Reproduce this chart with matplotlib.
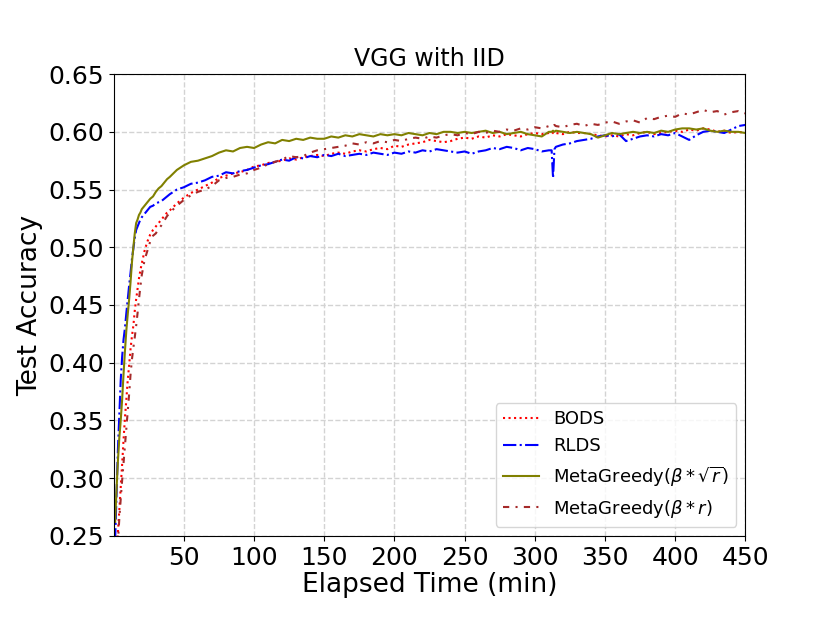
import numpy as np
import matplotlib
matplotlib.use("Agg")
import matplotlib.pyplot as plt

# elapsed time (min)
t = (list(range(1, 21)) + list(range(22, 41, 2)) + list(range(45, 311, 5))
     + [312, 313, 314] + list(range(315, 451, 5)))

bods = [0.215, 0.235, 0.253, 0.272, 0.292, 0.312, 0.333, 0.352, 0.368, 0.385,
        0.398, 0.412, 0.423, 0.432, 0.445, 0.455, 0.464, 0.473, 0.480, 0.486,
        0.497, 0.505, 0.511, 0.515, 0.518, 0.521, 0.524, 0.527, 0.530, 0.532,
        0.538, 0.543, 0.547, 0.550, 0.553, 0.556, 0.560, 0.562, 0.564, 0.565,
        0.567, 0.570, 0.571, 0.573, 0.574, 0.575, 0.577, 0.576, 0.578, 0.579,
        0.580, 0.579, 0.581, 0.582, 0.581, 0.583, 0.584, 0.583, 0.585, 0.586,
        0.585, 0.588, 0.587, 0.589, 0.590, 0.591, 0.593, 0.592, 0.591, 0.592,
        0.594, 0.595, 0.594, 0.596, 0.595, 0.597, 0.596, 0.598, 0.597, 0.596,
        0.598, 0.599, 0.598, 0.599,
        0.600, 0.599, 0.598,
        0.599, 0.598, 0.600, 0.599, 0.599, 0.598, 0.597, 0.596, 0.597, 0.596,
        0.598, 0.597, 0.599, 0.600, 0.598, 0.599, 0.600, 0.601, 0.600, 0.602,
        0.601, 0.603, 0.602, 0.600, 0.601, 0.599, 0.600, 0.599]

rlds = [0.245, 0.285, 0.325, 0.355, 0.385, 0.405, 0.420, 0.430, 0.443, 0.455,
        0.467, 0.478, 0.490, 0.499, 0.508, 0.515, 0.518, 0.521, 0.524, 0.526,
        0.529, 0.532, 0.535, 0.536, 0.538, 0.539, 0.540, 0.542, 0.544, 0.546,
        0.550, 0.552, 0.555, 0.556, 0.558, 0.561, 0.562, 0.565, 0.564, 0.566,
        0.567, 0.569, 0.571, 0.572, 0.574, 0.576, 0.575, 0.578, 0.577, 0.579,
        0.578, 0.580, 0.579, 0.581, 0.579, 0.580, 0.581, 0.580, 0.582, 0.581,
        0.580, 0.582, 0.581, 0.583, 0.582, 0.584, 0.583, 0.585, 0.584, 0.583,
        0.582, 0.583, 0.581, 0.583, 0.584, 0.586, 0.585, 0.587, 0.586, 0.584,
        0.586, 0.585, 0.583, 0.584,
        0.584, 0.560, 0.585,
        0.587, 0.589, 0.590, 0.592, 0.593, 0.594, 0.596, 0.597, 0.596, 0.598,
        0.592, 0.594, 0.596, 0.597, 0.596, 0.598, 0.597, 0.599, 0.596, 0.593,
        0.597, 0.600, 0.601, 0.600, 0.599, 0.602, 0.605, 0.606]

mg_sqrt = [0.262, 0.290, 0.315, 0.335, 0.350, 0.368, 0.390, 0.410, 0.428, 0.442,
           0.455, 0.470, 0.487, 0.500, 0.512, 0.521, 0.524, 0.528, 0.530, 0.533,
           0.536, 0.539, 0.542, 0.544, 0.548, 0.551, 0.553, 0.556, 0.559, 0.561,
           0.567, 0.571, 0.574, 0.575, 0.577, 0.579, 0.582, 0.584, 0.583, 0.586,
           0.587, 0.586, 0.589, 0.591, 0.590, 0.593, 0.592, 0.594, 0.593, 0.595,
           0.594, 0.594, 0.596, 0.595, 0.597, 0.596, 0.598, 0.597, 0.596, 0.598,
           0.597, 0.598, 0.597, 0.599, 0.598, 0.597, 0.599, 0.598, 0.600, 0.600,
           0.599, 0.600, 0.599, 0.600, 0.601, 0.599, 0.600, 0.598, 0.599, 0.600,
           0.598, 0.597, 0.596, 0.600,
           0.600, 0.601, 0.600,
           0.601, 0.600, 0.599, 0.600, 0.599, 0.598, 0.595, 0.597, 0.599, 0.598,
           0.599, 0.600, 0.599, 0.600, 0.599, 0.601, 0.600, 0.602, 0.603, 0.603,
           0.602, 0.603, 0.601, 0.600, 0.601, 0.600, 0.600, 0.599]

mg_r = [0.205, 0.225, 0.245, 0.265, 0.282, 0.298, 0.313, 0.328, 0.343, 0.358,
        0.373, 0.390, 0.403, 0.413, 0.422, 0.432, 0.443, 0.455, 0.466, 0.476,
        0.489, 0.497, 0.505, 0.510, 0.512, 0.516, 0.519, 0.523, 0.527, 0.530,
        0.536, 0.541, 0.545, 0.548, 0.550, 0.553, 0.558, 0.560, 0.561, 0.563,
        0.564, 0.567, 0.569, 0.572, 0.574, 0.576, 0.579, 0.578, 0.579, 0.582,
        0.584, 0.585, 0.586, 0.587, 0.588, 0.590, 0.589, 0.591, 0.590, 0.592,
        0.591, 0.593, 0.592, 0.594, 0.595, 0.594, 0.596, 0.595, 0.597, 0.598,
        0.597, 0.599, 0.598, 0.600, 0.599, 0.601, 0.600, 0.602, 0.601, 0.603,
        0.602, 0.604, 0.603, 0.605,
        0.606, 0.605, 0.606,
        0.605, 0.604, 0.606, 0.607, 0.605, 0.607, 0.606, 0.608, 0.609, 0.607,
        0.609, 0.610, 0.608, 0.612, 0.611, 0.613, 0.614, 0.613, 0.616, 0.615,
        0.617, 0.619, 0.617, 0.618, 0.615, 0.617, 0.618, 0.616]

for s in (bods, rlds, mg_sqrt, mg_r):
    assert len(s) == len(t), (len(s), len(t))

fig = plt.figure(figsize=(8.3, 6.23), dpi=100)
ax = fig.add_axes([0.137, 0.14, 0.761, 0.741])

ax.plot(t, bods, color='red', linestyle=':', linewidth=1.5, label='BODS')
ax.plot(t, rlds, color='blue', linestyle='-.', linewidth=1.5, label='RLDS')
ax.plot(t, mg_sqrt, color='olive', linestyle='-', linewidth=1.5,
        label=r'MetaGreedy($\beta*\sqrt{r}$)')
ax.plot(t, mg_r, color='brown', linestyle=(0, (3, 3, 1, 3)), linewidth=1.5,
        label=r'MetaGreedy($\beta*r$)')

ax.set_xlim(0, 450)
ax.set_ylim(0.25, 0.65)
ax.set_xticks([50, 100, 150, 200, 250, 300, 350, 400, 450])
ax.set_yticks([0.25, 0.30, 0.35, 0.40, 0.45, 0.50, 0.55, 0.60, 0.65])
ax.tick_params(labelsize=18)
ax.grid(True, linestyle='--', color='lightgray', linewidth=1)
ax.set_xlabel('Elapsed Time (min)', fontsize=19, labelpad=2)
ax.set_ylabel('Test Accuracy', fontsize=19)
ax.set_title('VGG with IID', fontsize=17)
ax.legend(loc='lower right', fontsize=13)

fig.savefig('out.png', dpi=100)
